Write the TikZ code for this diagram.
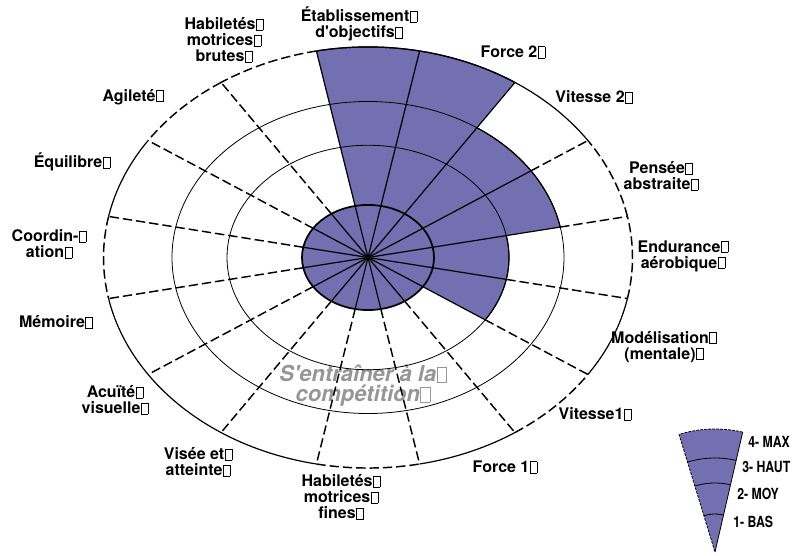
\documentclass[tikz,border=0pt]{standalone}
\usepackage{fontspec}
\setmainfont{TeX Gyre Heros}[Ligatures=TeXOff]
\newfontfamily\etroite{TeX Gyre Heros}[FakeStretch=0.8]
\usepackage{tikz}
\definecolor{niveau}{RGB}{116,111,176}
\definecolor{gristitre}{RGB}{150,150,150}
\setlength{\fboxsep}{0pt}
\setlength{\fboxrule}{0.4pt}
\newcommand{\bx}{\kern0.3pt\fbox{\rule{0pt}{0.66em}\kern0.4em}}
\newcommand{\secteur}[3]{
    \fill[niveau] (0,0) -- (#1:#3) arc[start angle=#1, end angle=#2, radius=#3] -- cycle;
    \draw[plein] (#1:#3) arc[start angle=#1, end angle=#2, radius=#3];
}
\newcommand{\rayon}[2]{
    \draw[plein] (0,0) -- (#1:#2);
    \draw[tirets] (#1:#2) -- (#1:264.5);
}
\newcommand{\bord}[3]{
    \draw[#3] (#1:264.5) arc[start angle=#1, end angle=#2, radius=264.5];
}

\begin{document}
\begin{tikzpicture}[x=0.75pt, y=0.75pt,
        plein/.style={line width=0.9pt},
        tirets/.style={line width=1.1pt, dash pattern=on 7pt off 3pt},
        anneau/.style={line width=0.6pt},
        etiquette/.style={font=\bfseries\fontsize{12}{12}\selectfont, align=center, inner sep=0pt},
        legende/.style={font=\etroite\bfseries\fontsize{11.5}{12}\selectfont, anchor=west, inner sep=0pt}]
        \useasboundingbox (-368,-298.5) rectangle (428,257.5);
        \node[font=\bfseries\itshape\fontsize{16.5}{15}\selectfont, text=gristitre, align=center, inner sep=0pt]
            (titre) at (-5,-128.5) {S'entraîner à la\bx\\compétition\bx};
        \begin{scope}[yscale=0.796]
            \fill[niveau] (0,0) circle[radius=66];
            \secteur{78.75}{101.25}{264.5}
            \secteur{56.25}{78.75}{264.5}
            \secteur{33.75}{56.25}{196}
            \secteur{11.25}{33.75}{196}
            \secteur{-11.25}{11.25}{141}
            \secteur{-33.75}{-11.25}{141}
            \rayon{101.25}{264.5}
            \rayon{78.75}{264.5}
            \rayon{56.25}{264.5}
            \rayon{33.75}{196}
            \rayon{11.25}{196}
            \rayon{-11.25}{141}
            \rayon{-33.75}{141}
            \rayon{-56.25}{66}
            \rayon{-78.75}{66}
            \rayon{-101.25}{66}
            \rayon{-123.75}{66}
            \rayon{-146.25}{66}
            \rayon{-168.75}{66}
            \rayon{168.75}{66}
            \rayon{146.25}{66}
            \rayon{123.75}{66}
            \draw[anneau] (0,0) circle[radius=141];
            \draw[anneau] (0,0) circle[radius=196];
            \draw[line width=1.3pt] (0,0) circle[radius=66];
            \bord{78.75}{101.25}{plein}
            \bord{56.25}{78.75}{plein}
            \bord{33.75}{56.25}{plein}
            \bord{11.25}{33.75}{tirets}
            \bord{-11.25}{11.25}{tirets}
            \bord{-33.75}{-11.25}{plein}
            \bord{-56.25}{-33.75}{tirets}
            \bord{-78.75}{-56.25}{plein}
            \bord{-101.25}{-78.75}{tirets}
            \bord{-123.75}{-101.25}{plein}
            \bord{-146.25}{-123.75}{plein}
            \bord{-168.75}{-146.25}{plein}
            \bord{168.75}{191.25}{tirets}
            \bord{146.25}{168.75}{plein}
            \bord{123.75}{146.25}{tirets}
            \bord{101.25}{123.75}{tirets}
        \end{scope}
        \node[etiquette] (etab) at (-9,233.5) {Établissement\bx\\d'objectifs\bx};
        \node[etiquette] (force2) at (145,205.5) {Force 2\bx};
        \node[etiquette] (vit2) at (226,160.5) {Vitesse 2\bx};
        \node[etiquette] (pensee) at (293,81.5) {Pensée\bx\\abstraite\bx};
        \node[etiquette] (endur) at (315,1.5) {Endurance\bx\\aérobique\bx};
        \node[etiquette] (model) at (296,-89.5) {Modélisation\bx\\(mentale)\bx};
        \node[etiquette] (vit1) at (227,-156.5) {Vitesse1\bx};
        \node[etiquette] (force1) at (137,-209.5) {Force 1\bx};
        \node[etiquette] (habfines) at (-27,-239.5) {Habiletés\bx\\motrices\bx\\fines\bx};
        \node[etiquette] (visee) at (-170,-204.5) {Visée et\bx\\atteinte\bx};
        \node[etiquette] (acuite) at (-253,-142.5) {Acuïté\bx\\visuelle\bx};
        \node[etiquette] (memoire) at (-312,-64.5) {Mémoire\bx};
        \node[etiquette] (coord) at (-319,13.5) {Coordin-\bx\\ation\bx};
        \node[etiquette] (equil) at (-296,95.5) {Équilibre\bx};
        \node[etiquette] (agil) at (-235,160.5) {Agileté\bx};
        \node[etiquette] (habbrut) at (-144,217.5) {Habiletés\bx\\motrices\bx\\brutes\bx};
        \coordinate (pointe) at (347,-294.5);
        \fill[niveau] (pointe) -- ++(77:123) arc[start angle=77, end angle=107, radius=123] -- cycle;
        \draw[anneau] (pointe) -- ++(77:123);
        \draw[anneau, dash pattern=on 2pt off 1pt] (pointe) ++(77:123) arc[start angle=77, end angle=107, radius=123] -- (pointe);
        \draw[anneau] (pointe) ++(77:94) arc[start angle=77, end angle=107, radius=94];
        \draw[anneau] (pointe) ++(77:69) arc[start angle=77, end angle=107, radius=69];
        \draw[anneau] (pointe) ++(77:38) arc[start angle=77, end angle=107, radius=38];
        \node[legende] (max) at (380,-184.5) {4- MAX};
        \node[legende] (haut) at (374,-209.5) {3- HAUT};
        \node[legende] (moy) at (369,-236.5) {2- MOY};
        \node[legende] (bas) at (365,-264.5) {1- BAS};
    \end{tikzpicture}
\end{document}
